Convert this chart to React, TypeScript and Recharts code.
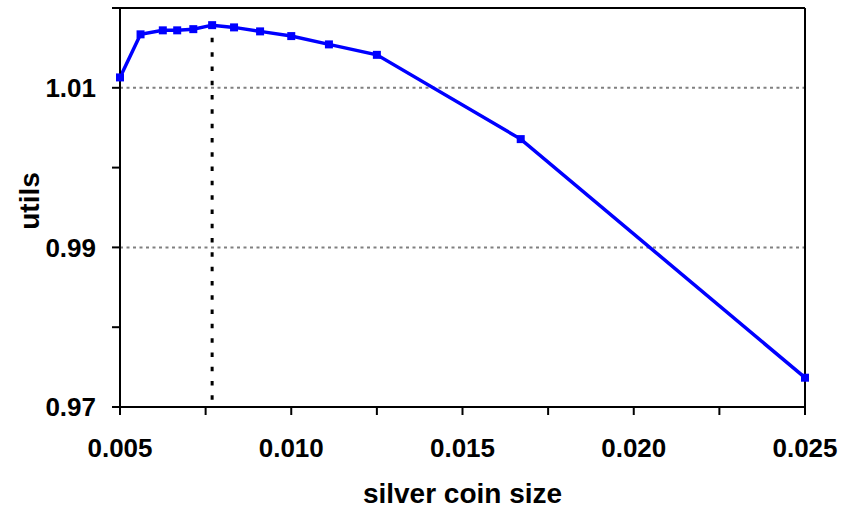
import React from 'react';
import { LineChart, Line, XAxis, YAxis, ReferenceLine, Label } from 'recharts';

// valores
const coinSizes = [0.005, 0.0056, 0.00625, 0.00667, 0.00714, 0.00769, 0.00833, 0.00909, 0.01, 0.0111, 0.0125, 0.0167, 0.025];
const utils = [1.0113, 1.0167, 1.0172, 1.0172, 1.01735, 1.01785, 1.01757, 1.01707, 1.01648, 1.01544, 1.01413, 1.00357, 0.97367];

const xTicks = [0.005, 0.0075, 0.01, 0.0125, 0.015, 0.0175, 0.02, 0.0225, 0.025];
const xTickLabels = ['0.005', '', '0.010', '', '0.015', '', '0.020', '', '0.025'];
const yTicks = [0.97, 0.98, 0.99, 1.0, 1.01, 1.02];
const yTickLabels = ['0.97', '', '0.99', '', '1.01', ''];
const gridValues = [0.99, 1.01];

const optimumSize = 0.00769;
const optimumTop = 1.01626;

const data = coinSizes.map((x, i) => ({ x, u: utils[i] }));

const FONT = '"Liberation Sans", Arial, sans-serif';
const tickStyle = { fill: '#000', fontSize: 26, fontWeight: 'bold', fontFamily: FONT };

const SquareDot = (props: any) => {
  const { cx, cy, index } = props;
  return <rect key={`dot-${index}`} x={cx - 4} y={cy - 4} width={8} height={8} fill="#0000FF" />;
};

const YTitle = () => (
  <text
    x={29}
    y={201}
    transform="rotate(-90 29 201)"
    textAnchor="middle"
    dominantBaseline="central"
    fill="#000"
    fontSize={28}
    fontWeight="bold"
    fontFamily={FONT}
  >
    utils
  </text>
);

const App: React.FC = () => {
  return (
    <div style={{ position: 'absolute', left: 0, top: 0, width: 844, height: 512, background: '#fff' }}>
      <LineChart width={844} height={512} data={data} margin={{ top: 8, right: 39, bottom: 0, left: 0 }}>
        <XAxis
          dataKey="x"
          type="number"
          domain={[0.005, 0.025]}
          ticks={xTicks}
          tickFormatter={(v: number) => xTickLabels[xTicks.indexOf(v)] ?? ''}
          interval={0}
          height={105}
          tickSize={8}
          tickMargin={24}
          tick={tickStyle}
          stroke="#000"
          strokeWidth={2}
        >
          <Label
            value="silver coin size"
            position="insideBottom"
            offset={9}
            style={{ fill: '#000', fontSize: 28, fontWeight: 'bold', fontFamily: FONT }}
          />
        </XAxis>
        <YAxis
          type="number"
          domain={[0.97, 1.02]}
          ticks={yTicks}
          tickFormatter={(v: number) => yTickLabels[yTicks.indexOf(v)] ?? ''}
          interval={0}
          width={120}
          tickSize={8}
          tickMargin={16}
          tick={tickStyle}
          stroke="#000"
          strokeWidth={2}
        >
          <Label content={<YTitle />} />
        </YAxis>
        {gridValues.map((v) => (
          <ReferenceLine key={`grid-${v}`} y={v} stroke="#808080" strokeWidth={2} strokeDasharray="3 3.5" />
        ))}
        <ReferenceLine y={1.02} stroke="#000" strokeWidth={2} />
        <ReferenceLine x={0.025} stroke="#000" strokeWidth={2} />
        <ReferenceLine
          segment={[{ x: optimumSize, y: optimumTop }, { x: optimumSize, y: 0.97 }]}
          stroke="#000"
          strokeWidth={3}
          strokeDasharray="4.5 9.8"
        />
        <Line
          dataKey="u"
          stroke="#0000FF"
          strokeWidth={3.5}
          dot={SquareDot}
          activeDot={false}
          isAnimationActive={false}
        />
      </LineChart>
    </div>
  );
};

export default App;
